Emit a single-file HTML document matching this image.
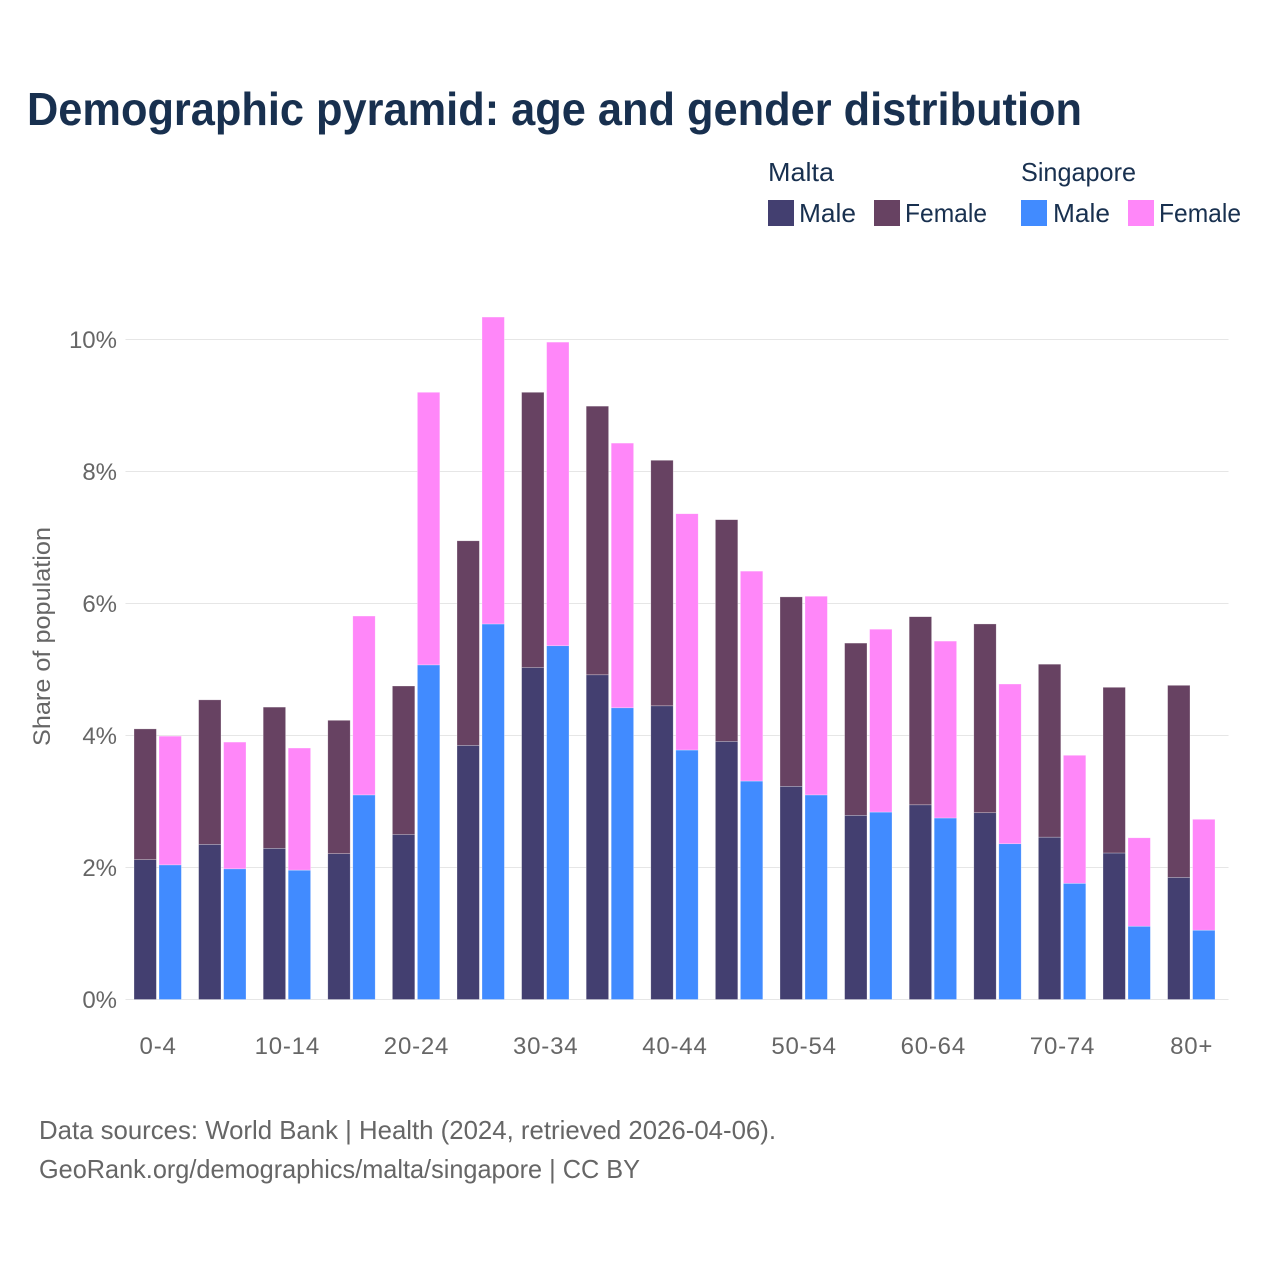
<!DOCTYPE html>
<html lang="en">
<head>
<meta charset="utf-8">
<title>Demographic pyramid</title>
<style>
html,body{margin:0;padding:0;background:#fff;}
svg{display:block;}
text{font-family:"Liberation Sans",sans-serif;}
</style>
</head>
<body>
<svg id="chart" width="1280" height="1280" viewBox="0 0 1280 1280" xmlns="http://www.w3.org/2000/svg">
  <rect width="1280" height="1280" fill="#fff"/>
  <text x="27" y="125" font-size="46" font-weight="700" fill="#18304f" textLength="1055" lengthAdjust="spacingAndGlyphs">Demographic pyramid: age and gender distribution</text>

  <g fill="#18304f" font-size="26">
    <text x="768" y="181" textLength="66" lengthAdjust="spacingAndGlyphs">Malta</text>
    <text x="1021" y="181" textLength="115" lengthAdjust="spacingAndGlyphs">Singapore</text>
    <rect x="768" y="200" width="26" height="26" fill="#433f70"/>
    <text x="799" y="222" textLength="57" lengthAdjust="spacingAndGlyphs">Male</text>
    <rect x="874" y="200" width="26" height="26" fill="#674262"/>
    <text x="905" y="222" textLength="82" lengthAdjust="spacingAndGlyphs">Female</text>
    <rect x="1021" y="200" width="26" height="26" fill="#418bff"/>
    <text x="1053" y="222" textLength="57" lengthAdjust="spacingAndGlyphs">Male</text>
    <rect x="1128" y="200" width="26" height="26" fill="#ff87f9"/>
    <text x="1159" y="222" textLength="82" lengthAdjust="spacingAndGlyphs">Female</text>
  </g>

  <g id="grid"></g>
  <g id="bars"></g>
  <g id="yticks"></g>
  <g id="xticks"></g>

  <text transform="translate(50,636.5) rotate(-90)" text-anchor="middle" font-size="24" fill="#666" textLength="219" lengthAdjust="spacingAndGlyphs">Share of population</text>

  <text x="39" y="1139" font-size="26" fill="#666" textLength="737" lengthAdjust="spacingAndGlyphs">Data sources: World Bank | Health (2024, retrieved 2026-04-06).</text>
  <text x="39" y="1178" font-size="26" fill="#666" textLength="601" lengthAdjust="spacingAndGlyphs">GeoRank.org/demographics/malta/singapore | CC BY</text>
</svg>
<script>
const categories = ["0-4","5-9","10-14","15-19","20-24","25-29","30-34","35-39","40-44","45-49","50-54","55-59","60-64","65-69","70-74","75-79","80+"];
const maltaMale = [2.12,2.35,2.29,2.21,2.50,3.85,5.03,4.92,4.45,3.91,3.23,2.79,2.95,2.83,2.46,2.22,1.85];
const maltaFemale = [1.98,2.19,2.14,2.02,2.25,3.10,4.17,4.07,3.72,3.36,2.87,2.61,2.85,2.86,2.62,2.51,2.91];
const singaporeMale = [2.04,1.98,1.96,3.10,5.07,5.69,5.36,4.42,3.78,3.31,3.10,2.84,2.75,2.36,1.76,1.11,1.05];
const singaporeFemale = [1.95,1.92,1.85,2.71,4.13,4.65,4.60,4.01,3.58,3.18,3.01,2.77,2.68,2.42,1.94,1.34,1.68];
const yTickValues = [0,2,4,6,8,10];
const xTickLabels = ["0-4","10-14","20-24","30-34","40-44","50-54","60-64","70-74","80+"];

const NS = "http://www.w3.org/2000/svg";
const plot = {left:125.5, right:1228.5, top:339.5, bottom:999.5, step:64.6, first:157.7};
function yScale(v){ return plot.bottom - (v / 10) * (plot.bottom - plot.top); }
function xScale(i){ return plot.first + i * plot.step; }
function make(tag, parent, attrs){
  const el = document.createElementNS(NS, tag);
  Object.keys(attrs).forEach(function(k){ el.setAttribute(k, attrs[k]); });
  parent.appendChild(el);
  return el;
}

const grid = document.getElementById("grid");
const yticks = document.getElementById("yticks");
yTickValues.forEach(function(v){
  const line = make("line", grid, {x1:plot.left, x2:plot.right, y1:yScale(v), y2:yScale(v), stroke:"#e6e6e6", "stroke-width":1});
  
  
  const label = make("text", yticks, {x:117, y:yScale(v)+8.5, "text-anchor":"end", "font-size":24, fill:"#666"});
  label.textContent = v + "%";
  
  
});

const barsG = document.getElementById("bars");
const barWidth = 22.4;
const barOffset = 1.3;
function drawSegment(x, base, value, color, name){
  const y1 = yScale(base + value);
  const y0 = yScale(base);
  const r = make("rect", barsG, {x:x, y:y1, width:barWidth, height:y0-y1, fill:color, stroke:"#fff", "stroke-opacity":0.45, "stroke-width":0.6});
  
  
}
categories.forEach(function(cat, i){
  const cx = xScale(i);
  const xm = cx - barOffset - barWidth;
  const xs = cx + barOffset;
  drawSegment(xm, 0, maltaMale[i], "#433f70", 'bar-malta-male-' + cat);
  drawSegment(xm, maltaMale[i], maltaFemale[i], "#674262", 'bar-malta-female-' + cat);
  drawSegment(xs, 0, singaporeMale[i], "#418bff", 'bar-singapore-male-' + cat);
  drawSegment(xs, singaporeMale[i], singaporeFemale[i], "#ff87f9", 'bar-singapore-female-' + cat);
});

const xticks = document.getElementById("xticks");
xTickLabels.forEach(function(lbl){
  const t = make("text", xticks, {x:xScale(categories.indexOf(lbl))+0.4, y:1054, "text-anchor":"middle", "font-size":24, "letter-spacing":"0.8", fill:"#666"});
  t.textContent = lbl;
  
  
});
</script>
</body>
</html>
